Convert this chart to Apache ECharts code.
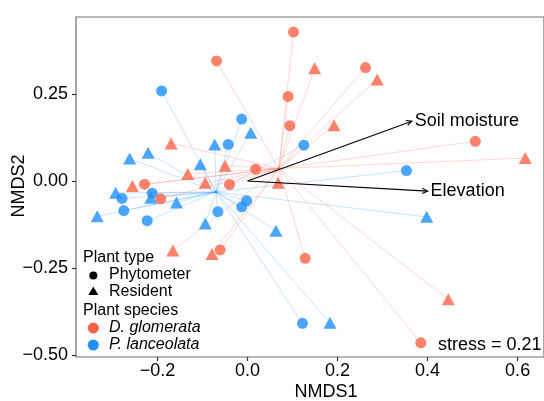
<!DOCTYPE html>
<html>
<head>
<meta charset="utf-8">
<script src="https://cdn.jsdelivr.net/npm/echarts@6/dist/echarts.min.js"></script>
<style>
html, body { margin: 0; padding: 0; background: #fff; }
#chart { width: 544px; height: 401px; }
</style>
</head>
<body>
<div id="chart"></div>
<script>
// NMDS scores
var dgPhyto = [[0.102,0.428],[-0.069,0.345],[0.262,0.326],[0.090,0.243],[0.094,0.159],[0.506,0.114],[0.018,0.034],[-0.040,-0.010],[-0.229,-0.009],[-0.193,-0.051],[-0.061,-0.198],[0.128,-0.222],[0.385,-0.465]];
var dgResident = [[0.149,0.324],[0.288,0.292],[0.192,0.160],[0.617,0.066],[-0.170,0.108],[-0.050,0.044],[-0.133,0.020],[-0.094,-0.005],[-0.256,-0.014],[0.068,-0.005],[-0.166,-0.200],[-0.079,-0.210],[0.446,-0.340]];
var plPhyto = [[-0.191,0.259],[-0.013,0.178],[-0.043,0.105],[0.125,0.103],[0.353,0.030],[-0.212,-0.035],[-0.279,-0.050],[-0.275,-0.085],[-0.223,-0.114],[-0.066,-0.088],[-0.013,-0.074],[-0.002,-0.057],[0.122,-0.409]];
var plResident = [[0.007,0.139],[-0.073,0.105],[-0.221,0.081],[-0.262,0.065],[-0.105,0.048],[-0.293,-0.034],[-0.215,-0.048],[-0.158,-0.062],[-0.334,-0.101],[-0.094,-0.122],[0.063,-0.143],[0.398,-0.103],[0.183,-0.407]];

// envfit vectors
var envNames = ['Soil moisture', 'Elevation'];
var envX = [0.365, 0.400];
var envY = [0.172, -0.029];

var xTicks = [-0.2, 0, 0.2, 0.4, 0.6];
var yTicks = [-0.5, -0.25, 0, 0.25];
var stressText = 'stress = 0.21';

var red = '#FF6347';
var blue = '#1E90FF';
var font = '"Liberation Sans", Arial, sans-serif';

function centroid(pts) {
    var sx = 0, sy = 0;
    pts.forEach(function (p) { sx += p[0]; sy += p[1]; });
    return [sx / pts.length, sy / pts.length];
}
var dgAll = dgPhyto.concat(dgResident);
var plAll = plPhyto.concat(plResident);
var dgCen = centroid(dgAll);
var plCen = centroid(plAll);

// spider segments: point -> species centroid
var spiderData = [];
plAll.forEach(function (p) { spiderData.push([p[0], p[1], plCen[0], plCen[1], 0]); });
dgAll.forEach(function (p) { spiderData.push([p[0], p[1], dgCen[0], dgCen[1], 1]); });

function minus(s) { return s.replace('-', '\u2212'); }

var myChart = echarts.init(document.getElementById('chart'));
var option = {
    animation: false,
    textStyle: { fontFamily: font },
    grid: {
        left: 76, top: 17, right: -2, bottom: 44,
        show: true, borderColor: '#707070', borderWidth: 1.2
    },
    xAxis: {
        type: 'value',
        min: -0.3812, max: 0.6586,
        axisLine: { show: false, onZero: false },
        axisTick: { show: true, length: 4, customValues: xTicks, lineStyle: { color: '#333', width: 1.2 } },
        axisLabel: {
            customValues: xTicks, margin: 5, color: '#000', fontSize: 18, fontFamily: font,
            formatter: function (v) { return minus(v.toFixed(1)); }
        },
        splitLine: { show: false }
    },
    yAxis: {
        type: 'value',
        min: -0.5057, max: 0.4713,
        axisLine: { show: false, onZero: false },
        axisTick: { show: true, length: 4, customValues: yTicks, lineStyle: { color: '#333', width: 1.2 } },
        axisLabel: {
            customValues: yTicks, margin: 8, color: '#000', fontSize: 18, fontFamily: font,
            formatter: function (v) { return minus(v.toFixed(2)); }
        },
        splitLine: { show: false }
    },
    series: [
        {
            type: 'custom',
            z: 1,
            silent: true,
            data: spiderData,
            renderItem: function (params, api) {
                var a = api.coord([api.value(0), api.value(1)]);
                var b = api.coord([api.value(2), api.value(3)]);
                var col = api.value(4) === 1 ? 'rgba(255,99,71,0.28)' : 'rgba(30,144,255,0.28)';
                return {
                    type: 'line',
                    shape: { x1: a[0], y1: a[1], x2: b[0], y2: b[1] },
                    style: { stroke: col, lineWidth: 0.9 }
                };
            }
        },
        {
            type: 'scatter', z: 2, data: [plCen], symbol: 'circle', symbolSize: 3,
            itemStyle: { color: blue, opacity: 0.7 }
        },
        {
            type: 'scatter', z: 2, data: [dgCen], symbol: 'circle', symbolSize: 3,
            itemStyle: { color: red, opacity: 0.7 }
        },
        { type: 'scatter', z: 3, data: plPhyto, symbol: 'circle', symbolSize: 11, itemStyle: { color: blue } },
        { type: 'scatter', z: 3, data: plResident, symbol: 'triangle', symbolSize: [13, 12], itemStyle: { color: blue } },
        { type: 'scatter', z: 3, data: dgPhyto, symbol: 'circle', symbolSize: 11, itemStyle: { color: red } },
        { type: 'scatter', z: 3, data: dgResident, symbol: 'triangle', symbolSize: [13, 12], itemStyle: { color: red } },
        {
            type: 'custom',
            z: 5,
            silent: true,
            data: envX.map(function (x, i) { return [x, envY[i]]; }),
            renderItem: function (params, api) {
                var o = api.coord([0, 0]);
                var t = api.coord([api.value(0), api.value(1)]);
                var ang = Math.atan2(t[1] - o[1], t[0] - o[0]);
                var h = 6, w = Math.PI / 7;
                return {
                    type: 'group',
                    children: [
                        { type: 'line', shape: { x1: o[0], y1: o[1], x2: t[0], y2: t[1] }, style: { stroke: '#000', lineWidth: 1.1 } },
                        {
                            type: 'polyline',
                            shape: { points: [
                                [t[0] - h * Math.cos(ang - w), t[1] - h * Math.sin(ang - w)],
                                [t[0], t[1]],
                                [t[0] - h * Math.cos(ang + w), t[1] - h * Math.sin(ang + w)]
                            ] },
                            style: { stroke: '#000', fill: null, lineWidth: 1.1 }
                        },
                        {
                            type: 'text', x: t[0] + 3, y: t[1],
                            style: { text: envNames[params.dataIndex], font: '18px ' + font, fill: '#000', align: 'left', verticalAlign: 'middle' }
                        }
                    ]
                };
            }
        }
    ],
    graphic: [
        { type: 'text', x: 326, y: 392, style: { text: 'NMDS1', font: '18px ' + font, fill: '#000', align: 'center', verticalAlign: 'middle' } },
        { type: 'text', x: 19, y: 186, rotation: Math.PI / 2, style: { text: 'NMDS2', font: '18px ' + font, fill: '#000', align: 'center', verticalAlign: 'middle' } },
        { type: 'text', x: 438, y: 345, style: { text: stressText, font: '18px ' + font, fill: '#000', align: 'left', verticalAlign: 'middle' } },
        // legend: plant type
        { type: 'text', x: 83, y: 258, style: { text: 'Plant type', font: '16px ' + font, fill: '#000', align: 'left', verticalAlign: 'middle' } },
        { type: 'circle', shape: { cx: 93.3, cy: 275.5, r: 4 }, style: { fill: '#000' } },
        { type: 'text', x: 109, y: 275, style: { text: 'Phytometer', font: '16px ' + font, fill: '#000', align: 'left', verticalAlign: 'middle' } },
        { type: 'polygon', shape: { points: [[93.3, 286.5], [98.3, 295], [88.3, 295]] }, style: { fill: '#000' } },
        { type: 'text', x: 109, y: 292, style: { text: 'Resident', font: '16px ' + font, fill: '#000', align: 'left', verticalAlign: 'middle' } },
        // legend: plant species
        { type: 'text', x: 83, y: 310.5, style: { text: 'Plant species', font: '16px ' + font, fill: '#000', align: 'left', verticalAlign: 'middle' } },
        { type: 'line', shape: { x1: 85, y1: 328, x2: 102, y2: 328 }, style: { stroke: 'rgba(255,99,71,0.28)', lineWidth: 0.9 } },
        { type: 'circle', shape: { cx: 93.3, cy: 328, r: 5.5 }, style: { fill: red } },
        { type: 'text', x: 109, y: 328, style: { text: 'D. glomerata', font: 'italic 16px ' + font, fill: '#000', align: 'left', verticalAlign: 'middle' } },
        { type: 'line', shape: { x1: 85, y1: 345, x2: 102, y2: 345 }, style: { stroke: 'rgba(30,144,255,0.28)', lineWidth: 0.9 } },
        { type: 'circle', shape: { cx: 93.3, cy: 345, r: 5.5 }, style: { fill: blue } },
        { type: 'text', x: 109, y: 345, style: { text: 'P. lanceolata', font: 'italic 16px ' + font, fill: '#000', align: 'left', verticalAlign: 'middle' } }
    ]
};
myChart.setOption(option);
</script>
</body>
</html>
